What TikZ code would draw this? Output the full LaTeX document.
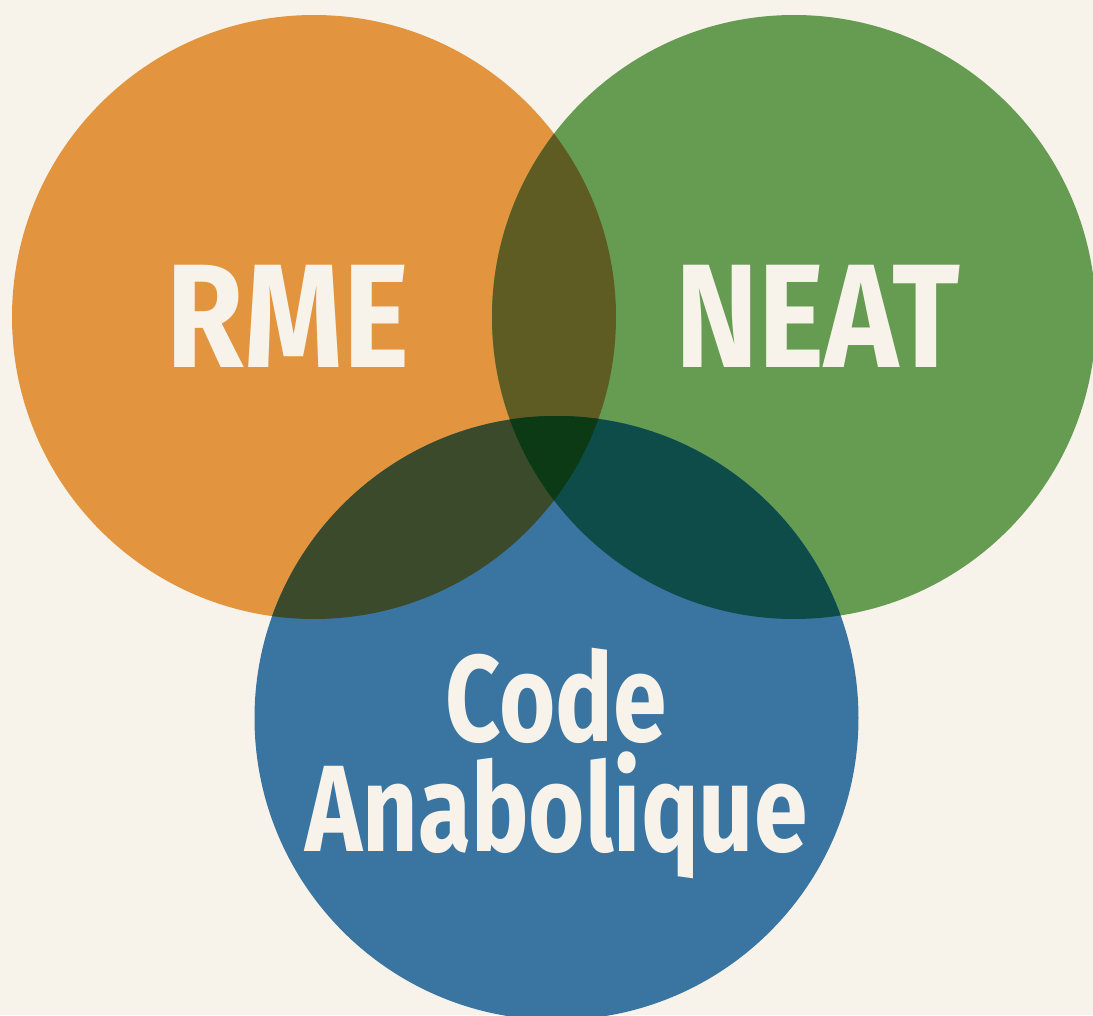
\documentclass[tikz,border=0pt]{standalone}
\usepackage{fontspec}
\usepackage{tikz}
\newfontfamily\vennfont[FakeStretch=0.85]{Fira Sans}
\newfontfamily\vennnarrow[FakeStretch=0.785]{Fira Sans}

\definecolor{paper}{HTML}{F8F3EA}
\definecolor{rmeorange}{HTML}{E3943E}
\definecolor{neatgreen}{HTML}{659C52}
\definecolor{codeblue}{HTML}{3A74A0}
\definecolor{rmeneat}{HTML}{5E5C22}
\definecolor{rmecode}{HTML}{3A4A2A}
\definecolor{neatcode}{HTML}{0D4C48}
\definecolor{allthree}{HTML}{0B3A14}

\tikzset{
	set/.style={shape=circle, minimum size=6.04cm, inner sep=0pt},
	biglabel/.style={text=paper, inner sep=0pt, font=\vennfont\bfseries\fontsize{42}{42}\selectfont},
	codelabel/.style={text=paper, inner sep=0pt, align=center, font=\vennnarrow\bfseries\fontsize{35}{31.3}\selectfont}
}

\begin{document}
\begin{tikzpicture}
	\useasboundingbox[fill=paper] (0,0) rectangle (10.93,10.15);

	\node[set, fill=rmeorange] (rme) at (3.14, 6.98) {};
	\node[set, fill=neatgreen] (neat) at (7.94, 6.98) {};
	\node[set, fill=codeblue] (code) at (5.565, 2.97) {};

	\begin{scope}
		\clip (rme.center) circle (3.02);
		\fill[rmeneat] (neat.center) circle (3.02);
		\fill[rmecode] (code.center) circle (3.02);
	\end{scope}
	\begin{scope}
		\clip (neat.center) circle (3.02);
		\fill[neatcode] (code.center) circle (3.02);
		\clip (code.center) circle (3.02);
		\fill[allthree] (rme.center) circle (3.02);
	\end{scope}

	\node[biglabel] (rmetext) at (2.88, 6.99) {RME};
	\node[biglabel] (neattext) at (8.18, 6.99) {NEAT};
	\node[codelabel] (codetext) at (5.565, 2.515) {Code\\Anabolique};
\end{tikzpicture}
\end{document}
